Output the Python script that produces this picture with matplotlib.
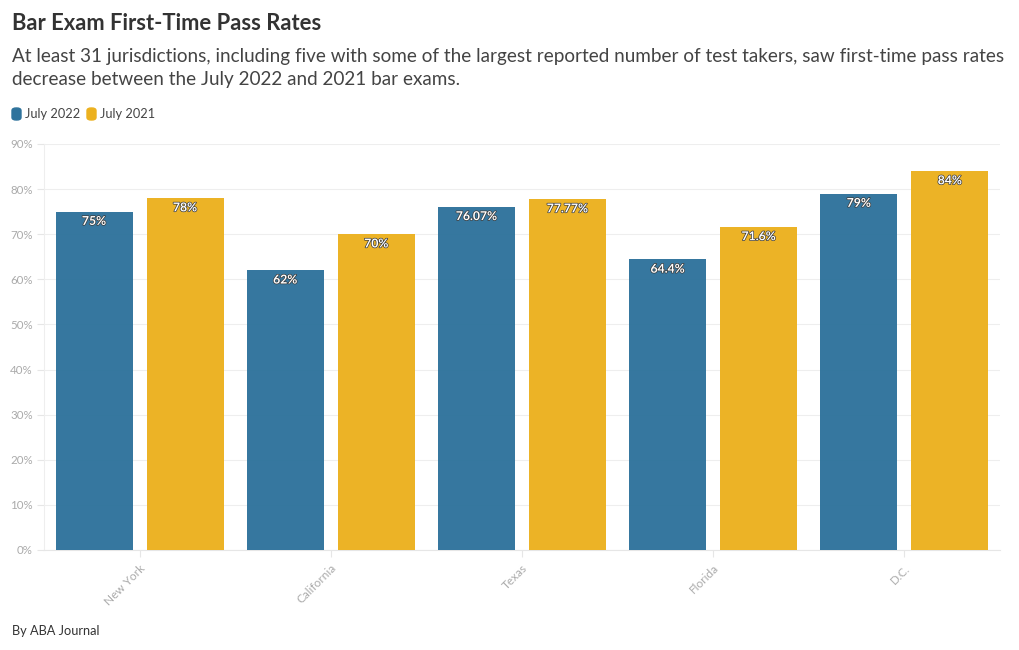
import matplotlib.pyplot as plt
import matplotlib.patheffects as pe
import numpy as np
from matplotlib.patches import FancyBboxPatch

plt.rcParams['font.family'] = ['Lato', 'DejaVu Sans']

states = ["New York", "California", "Texas", "Florida", "D.C."]
july_2022 = [75, 62, 76.07, 64.4, 79]
july_2021 = [78, 70, 77.77, 71.6, 84]
labels_2022 = ["75%", "62%", "76.07%", "64.4%", "79%"]
labels_2021 = ["78%", "70%", "77.77%", "71.6%", "84%"]

blue = "#2f739c"
yellow = "#ecb11f"

fig = plt.figure(figsize=(10.2, 6.5), dpi=100)
ax = fig.add_axes([44 / 1020, 1 - 550 / 650, 956 / 1020, 406 / 650])

x = np.arange(len(states))
w = 0.403
off = 0.238
b1 = ax.bar(x - off, july_2022, w, color=blue, alpha=0.97, zorder=3)
b2 = ax.bar(x + off, july_2021, w, color=yellow, alpha=0.97, zorder=3)

outline = [pe.withStroke(linewidth=1.0, foreground="#3a3a3a")]
for bars, labs in ((b1, labels_2022), (b2, labels_2021)):
    for b, lab in zip(bars, labs):
        ax.annotate(lab, (b.get_x() + b.get_width() / 2, b.get_height()),
                    xytext=(0, -7), textcoords="offset points",
                    ha="center", va="center", color="white", fontsize=8.8,
                    fontweight="bold", path_effects=outline, zorder=4)

ax.set_xlim(-0.5, 4.5)
ax.set_ylim(0, 90)
ax.set_yticks(range(0, 91, 10))
ax.set_yticklabels([f"{v}%" for v in range(0, 91, 10)])
ax.set_xticks(x)
ax.set_xticklabels(states, rotation=45, ha="right", rotation_mode="anchor")
ax.grid(axis="y", color="#eeeeee", linewidth=0.8, zorder=0)
for s in ("top", "right"):
    ax.spines[s].set_visible(False)
ax.spines["left"].set_color("#eeeeee")
ax.spines["bottom"].set_color("#e6e6e6")
ax.tick_params(axis="y", colors="#aaaaaa", labelsize=8.3, length=5, color="#e6e6e6", pad=3)
ax.tick_params(axis="x", colors="#aaaaaa", labelsize=8.5, length=5, color="#e6e6e6", pad=4)

fig.text(12 / 1020, 1 - 24 / 650, "Bar Exam First-Time Pass Rates", fontsize=15.8,
         fontweight="bold", color="#333333", va="center")
fig.text(12 / 1020, 1 - 68 / 650,
         "At least 31 jurisdictions, including five with some of the largest reported number of test takers, saw first-time pass rates\n"
         "decrease between the July 2022 and 2021 bar exams.",
         fontsize=13.6, color="#444444", va="center", linespacing=1.4)

# legend
for px, col, txt in ((12, blue, "July 2022"), (87, yellow, "July 2021")):
    fig.patches.append(FancyBboxPatch((px / 1020, 1 - 120 / 650), 9 / 1020, 12 / 650,
                                      boxstyle="round,pad=0,rounding_size=0.004",
                                      transform=fig.transFigure, color=col))
    fig.text((px + 13) / 1020, 1 - 114 / 650, txt, fontsize=9.2, color="#444444", va="center")

fig.text(12 / 1020, 1 - 631 / 650, "By ABA Journal", fontsize=9.2, color="#333333", va="center")

fig.savefig("out.png", dpi=100)
